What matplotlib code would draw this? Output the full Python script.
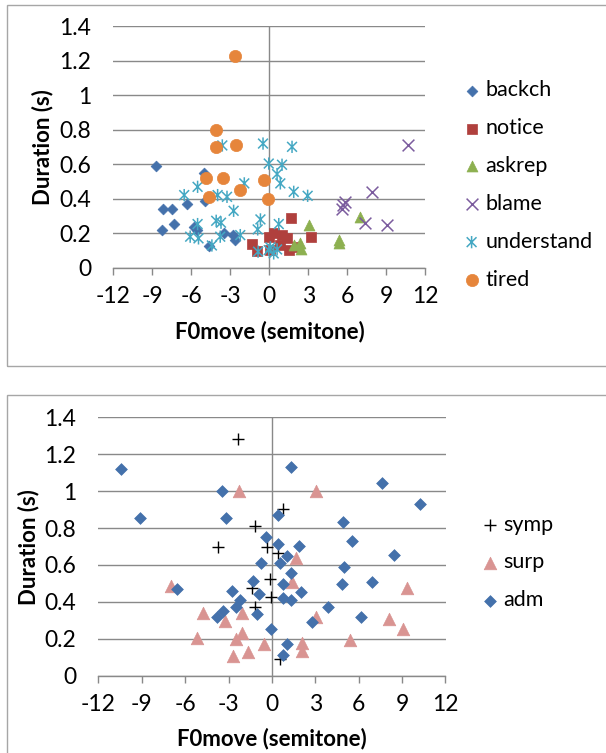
import numpy as np
import matplotlib
matplotlib.use("Agg")
import matplotlib.pyplot as plt
from matplotlib.path import Path
from matplotlib.patches import Rectangle

plt.rcParams['font.family'] = ['Lato', 'DejaVu Sans']

# ---- top chart: F0move (semitone) vs duration (s) ----
backch_x = [-8.71, -8.20, -7.48, -8.27, -7.35, -6.35, -5.06, -4.98, -5.83, -5.58, -4.68, -3.52, -2.80, -2.62]
backch_y = [0.591, 0.338, 0.338, 0.220, 0.251, 0.369, 0.550, 0.386, 0.237, 0.218, 0.126, 0.199, 0.189, 0.160]

notice_x = [1.69, 3.20, -1.34, -0.95, -0.05, 0.33, 0.97, 1.36, 0.84, 1.48, 2.12, 0.08]
notice_y = [0.288, 0.180, 0.137, 0.098, 0.180, 0.199, 0.189, 0.170, 0.131, 0.102, 0.122, 0.102]

askrep_x = [3.02, 6.93, 5.32, 5.32, 1.87, 2.38, 2.46]
askrep_y = [0.247, 0.295, 0.160, 0.141, 0.131, 0.141, 0.106]

blame_x = [10.62, 7.88, 5.83, 5.63, 5.58, 7.37, 9.01]
blame_y = [0.709, 0.438, 0.382, 0.363, 0.338, 0.257, 0.247]

understand_x = [-3.62, -0.49, -0.05, -6.55, -5.52, -3.98, -3.26, -1.93, -2.75, -4.09, -3.72,
                -5.52, -6.09, -5.45, -4.42, -3.78, -2.24, -0.69, -0.90, -0.87, -0.05,
                1.74, 0.97, 0.59, 0.84, 1.87, 2.94, 0.72, 0.08, 0.59, 0.33]
understand_y = [0.709, 0.720, 0.604, 0.421, 0.469, 0.421, 0.411, 0.489, 0.330, 0.272, 0.261,
                0.253, 0.180, 0.170, 0.129, 0.180, 0.189, 0.280, 0.222, 0.093, 0.102,
                0.701, 0.597, 0.543, 0.489, 0.440, 0.417, 0.253, 0.118, 0.106, 0.083]

tired_x = [-2.62, -4.09, -4.14, -2.60, -4.86, -3.55, -4.68, -2.29, -0.44, -0.13]
tired_y = [1.228, 0.800, 0.700, 0.709, 0.519, 0.519, 0.411, 0.450, 0.508, 0.398]

# ---- bottom chart ----
symp_x = [-2.31, -1.20, -3.74, -0.35, -0.12, -1.38, -0.05, -1.18, 0.41, 0.74, 0.57]
symp_y = [1.281, 0.811, 0.699, 0.699, 0.522, 0.473, 0.428, 0.374, 0.663, 0.901, 0.089]

surp_x = [-2.24, -6.97, -4.78, -3.23, -2.05, -5.19, -2.49, -2.08, -2.72, -1.62, -0.53,
          3.06, 1.68, 1.38, 3.03, 9.31, 8.11, 9.03, 5.40, 2.07, 2.07]
surp_y = [1.003, 0.488, 0.338, 0.298, 0.338, 0.206, 0.199, 0.229, 0.107, 0.130, 0.170,
          1.003, 0.639, 0.506, 0.320, 0.477, 0.307, 0.253, 0.193, 0.175, 0.135]

adm_x = [-10.43, -9.12, -3.44, -3.16, -0.42, -0.74, -6.53, -2.79, -1.29, -0.92, -2.19, -2.47,
         -3.35, -3.81, -1.04, -0.08, 1.33, 7.59, 10.23, 0.41, 4.94, 5.52, 8.41, 1.89, 0.41,
         1.03, 0.57, 1.33, 5.01, 0.80, 4.83, 6.92, 0.80, 1.33, 2.00, 3.91, 2.76, 6.14, 1.03, 0.74]
adm_y = [1.120, 0.853, 1.001, 0.853, 0.753, 0.609, 0.470, 0.461, 0.513, 0.443, 0.410, 0.374,
         0.350, 0.320, 0.334, 0.253, 1.129, 1.042, 0.930, 0.869, 0.831, 0.732, 0.652, 0.703, 0.712,
         0.650, 0.609, 0.555, 0.591, 0.495, 0.495, 0.509, 0.419, 0.410, 0.452, 0.370, 0.293, 0.320, 0.170, 0.112]

x_ticks = [-12, -9, -6, -3, 0, 3, 6, 9, 12]
y_ticks = [0, 0.2, 0.4, 0.6, 0.8, 1.0, 1.2, 1.4]
y_ticklabels = ['0', '0.2', '0.4', '0.6', '0.8', '1', '1.2', '1.4']

W, H = 606, 753
GRID = '#898989'
FS = 15.5      # legend text
TFS = 16.5     # tick labels
LFS = 16       # axis titles

# excel-style star marker: an X with a vertical stroke
star = Path([(-1, -1), (1, 1), (-1, 1), (1, -1), (0, -1.25), (0, 1.25)],
            [Path.MOVETO, Path.LINETO, Path.MOVETO, Path.LINETO, Path.MOVETO, Path.LINETO])


def fx(px):
    return px / W


def fy(py):
    return 1 - py / H


def style_axes(ax):
    ax.set_xlim(-12, 12)
    ax.set_ylim(0, 1.4)
    ax.set_xticks(x_ticks)
    ax.set_xticklabels([str(t) for t in x_ticks])
    ax.set_yticks(y_ticks)
    ax.set_yticklabels(y_ticklabels)
    for s in ['top', 'right', 'left']:
        ax.spines[s].set_visible(False)
    ax.spines['bottom'].set_color(GRID)
    ax.spines['bottom'].set_linewidth(1.0)
    ax.grid(axis='y', color=GRID, lw=1.0)
    ax.axvline(0, color=GRID, lw=1.0, zorder=1)
    ax.set_axisbelow(True)
    ax.tick_params(axis='x', direction='out', length=5, width=1.0, color=GRID, pad=8, labelsize=TFS)
    ax.tick_params(axis='y', length=0, pad=16, labelsize=TFS)


fig = plt.figure(figsize=(W / 100, H / 100), dpi=100)

# chart frames (excel chart area borders)
fig.patches.append(Rectangle((fx(6.5), fy(365.5)), fx(700), fy(4.5) - fy(365.5),
                             transform=fig.transFigure, fill=False, edgecolor='#A6A6A6', lw=1.0))
fig.patches.append(Rectangle((fx(6.5), fy(800)), fx(700), fy(394.5) - fy(800),
                             transform=fig.transFigure, fill=False, edgecolor='#A6A6A6', lw=1.0))

# ---------- top ----------
ax1 = fig.add_axes([fx(113.3), fy(267.7), (425.5 - 113.3) / W, (267.7 - 26.3) / H])
style_axes(ax1)
ax1.scatter(backch_x, backch_y, marker='D', s=30, color='#4471AB', linewidths=0.5, label='backch', zorder=3)
ax1.scatter(notice_x, notice_y, marker='s', s=62, color='#B0403D', linewidths=0.5, label='notice', zorder=3)
ax1.scatter(askrep_x, askrep_y, marker='^', s=62, color='#8DB050', linewidths=0.5, label='askrep', zorder=3)
ax1.scatter(blame_x, blame_y, marker='x', s=72, color='#7B5C9E', linewidths=1.1, label='blame', zorder=3)
ax1.scatter(understand_x, understand_y, marker=star, s=78, facecolors='none', edgecolors='#45A8C3',
            linewidths=1.1, label='understand', zorder=3)
ax1.scatter(tired_x, tired_y, marker='o', s=78, color='#E6853B', linewidths=0.5, label='tired', zorder=3)

ax1.legend(loc='center left', bbox_to_anchor=(fx(463), fy(185)), bbox_transform=fig.transFigure,
           frameon=False, fontsize=FS, handlelength=0.8, handletextpad=0.25, labelspacing=0.83,
           borderpad=0, borderaxespad=0, scatterpoints=1)

fig.text(fx(42.5), fy(147), 'Duration (s)', rotation=90, ha='center', va='center',
         fontsize=LFS, fontweight='bold')
fig.text(fx(269.4), fy(332), 'F0move (semitone)', ha='center', va='center',
         fontsize=LFS, fontweight='bold')

# ---------- bottom ----------
ax2 = fig.add_axes([fx(98.3), fy(675.7), (445.5 - 98.3) / W, (675.7 - 417.3) / H])
style_axes(ax2)
ax2.scatter(symp_x, symp_y, marker='+', s=65, color='black', linewidths=1.0, label='symp', zorder=3)
ax2.scatter(surp_x, surp_y, marker='^', s=82, color='#D99492', linewidths=0.5, label='surp', zorder=3)
ax2.scatter(adm_x, adm_y, marker='D', s=36, color='#4471AB', linewidths=0.5, label='adm', zorder=3)

ax2.legend(loc='center left', bbox_to_anchor=(fx(481), fy(562.5)), bbox_transform=fig.transFigure,
           frameon=False, fontsize=FS, handlelength=0.8, handletextpad=0.25, labelspacing=0.83,
           borderpad=0, borderaxespad=0, scatterpoints=1)

fig.text(fx(29), fy(547), 'Duration (s)', rotation=90, ha='center', va='center',
         fontsize=LFS, fontweight='bold')
fig.text(fx(271.7), fy(739), 'F0move (semitone)', ha='center', va='center',
         fontsize=LFS, fontweight='bold')

fig.savefig('out.png', dpi=100)
